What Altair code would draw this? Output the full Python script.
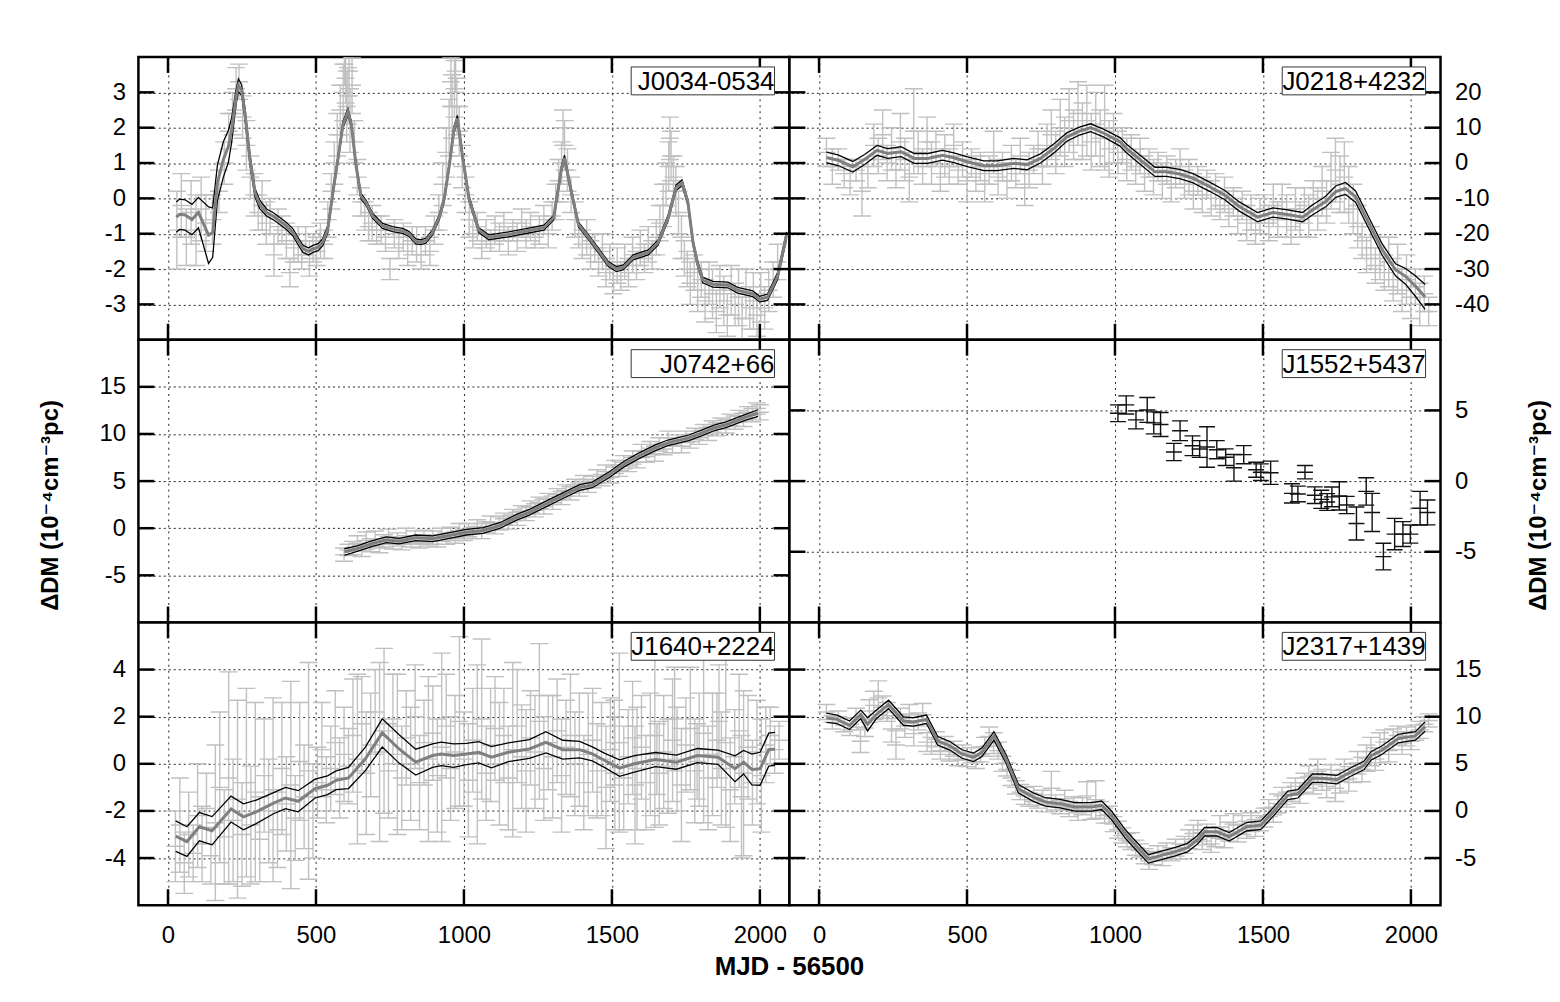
import altair as alt
import pandas as pd

FONT = "Liberation Sans, Arial, Helvetica, DejaVu Sans, sans-serif"
W, H = 654, 284
X_DOMAIN = [-100, 2100]
X_TICKS = [0, 500, 1000, 1500, 2000]
Y_TITLE = "ΔDM (10⁻⁴cm⁻³pc)"
X_TITLE = "MJD - 56500"

# ---------------- J0034-0534 ----------------
J0034_NAME = "J0034-0534"
J0034_Y_DOMAIN = [-4, 4]
J0034_Y_TICKS = [-3, -2, -1, 0, 1, 2, 3]
J0034_MODEL_X = [28, 39, 58, 81, 103, 137, 151, 167, 187, 204, 215, 230, 238, 249, 260, 277, 294, 310, 333, 355,
                 378, 400, 423, 439, 456, 475, 490, 507, 523, 540, 557, 574, 591, 608, 619, 636, 652, 669, 692, 725,
                 759, 793, 815, 837, 854, 871, 893, 916, 933, 950, 966, 978, 995, 1017, 1050, 1084, 1151, 1219, 1270,
                 1303, 1330, 1340, 1360, 1387, 1421, 1454, 1488, 1515, 1539, 1572, 1623, 1656, 1690, 1717, 1737,
                 1757, 1774, 1790, 1807, 1841, 1892, 1925, 1976, 1999, 2026, 2060, 2090]
J0034_MODEL_Y = [-0.53, -0.45, -0.47, -0.6, -0.4, -1.04, -0.97, 0.44, 1.1, 1.47, 1.93, 2.87, 3.2, 3.06, 2.4, 1.1,
                 0.16, -0.17, -0.4, -0.5, -0.64, -0.78, -0.97, -1.2, -1.43, -1.5, -1.43, -1.38, -1.24, -0.87, 0.16,
                 1.1, 2.08, 2.45, 2.12, 0.9, 0.06, -0.12, -0.5, -0.78, -0.87, -0.92, -1.01, -1.22, -1.24, -1.2,
                 -0.97, -0.55, -0.03, 0.9, 1.93, 2.26, 1.2, 0.0, -0.9, -1.1, -1.02, -0.91, -0.83, -0.55, 0.86, 1.14,
                 0.3, -0.74, -1.1, -1.47, -1.86, -2.0, -1.95, -1.67, -1.53, -1.25, -0.55, 0.3, 0.44, -0.12, -1.25,
                 -1.86, -2.31, -2.43, -2.45, -2.6, -2.7, -2.85, -2.8, -2.2, -1.05]
J0034_MODEL_HW = [0.43, 0.43, 0.43, 0.43, 0.43, 0.8, 0.7, 0.5, 0.5, 0.45, 0.35, 0.2, 0.18, 0.15, 0.15, 0.15, 0.12,
                  0.12, 0.1, 0.1, 0.1, 0.1, 0.1, 0.1, 0.1, 0.1, 0.1, 0.1, 0.1, 0.1, 0.08, 0.08, 0.09, 0.09, 0.08,
                  0.08, 0.08, 0.07, 0.07, 0.07, 0.07, 0.07, 0.07, 0.07, 0.07, 0.07, 0.07, 0.07, 0.08, 0.08, 0.09,
                  0.09, 0.08, 0.08, 0.07, 0.07, 0.07, 0.07, 0.07, 0.07, 0.08, 0.08, 0.08, 0.07, 0.07, 0.07, 0.07,
                  0.07, 0.07, 0.07, 0.07, 0.07, 0.08, 0.08, 0.08, 0.08, 0.08, 0.08, 0.08, 0.08, 0.08, 0.08, 0.08,
                  0.08, 0.09, 0.1, 0.1]
J0034_OBS = [
    (30, -0.9, 1.1), (45, -0.2, 0.9), (62, -1.1, 0.8), (78, -0.4, 0.9), (95, -0.9, 1.0), (112, -0.3, 0.9),
    (128, -0.7, 0.8), (150, -0.6, 0.7), (172, 0.2, 0.6), (190, 1.0, 0.6), (205, 1.9, 0.5), (218, 2.4, 0.6),
    (230, 3.1, 0.6), (240, 3.3, 0.5), (252, 2.3, 0.6), (265, 1.5, 0.7), (278, 0.6, 0.6), (292, 0.1, 0.6),
    (305, -0.4, 0.5), (318, -0.2, 0.7), (332, -0.7, 0.6), (345, -0.5, 0.5), (358, -1.6, 0.6), (372, -0.8, 0.5),
    (385, -0.9, 0.4), (400, -1.2, 0.5), (412, -2.1, 0.4), (425, -1.4, 0.4), (440, -1.3, 0.5), (452, -1.6, 0.4),
    (465, -1.2, 0.4), (478, -1.7, 0.5), (490, -1.4, 0.4), (502, -1.5, 0.4), (515, -1.2, 0.5), (528, -1.3, 0.4),
    (540, -0.6, 0.5), (552, 0.2, 0.5), (562, 1.0, 0.6), (572, 1.8, 0.6), (582, 2.5, 0.7), (592, 3.0, 0.8),
    (596, 3.8, 0.6), (600, 3.4, 0.7), (604, 2.6, 1.0), (608, 2.9, 0.8), (612, 3.6, 0.7), (615, 2.2, 0.9),
    (622, 3.2, 0.8), (630, 1.6, 0.6), (640, 0.6, 0.5), (652, -0.1, 0.4), (665, -0.5, 0.4), (678, -0.8, 0.4),
    (690, -0.7, 0.5), (705, -0.9, 0.4), (720, -0.9, 0.4), (735, -1.1, 0.4), (750, -2.0, 0.3), (765, -1.0, 0.4),
    (780, -1.3, 0.4), (795, -1.1, 0.4), (810, -1.5, 0.4), (825, -1.2, 0.4), (840, -1.3, 0.5), (855, -1.6, 0.4),
    (870, -1.2, 0.4), (885, -1.5, 0.4), (900, -0.9, 0.4), (915, -0.4, 0.5), (928, 0.4, 0.6), (940, 1.3, 0.7),
    (950, 2.0, 0.8), (956, 3.3, 0.7), (960, 2.6, 0.9), (968, 3.1, 0.8), (972, 3.6, 0.6), (976, 2.6, 0.8),
    (984, 1.9, 0.7), (994, 0.9, 0.6), (1005, 0.1, 0.5), (1018, -0.6, 0.5), (1030, -1.0, 0.4), (1045, -0.8, 0.4),
    (1060, -1.3, 0.4), (1075, -1.0, 0.4), (1090, -1.2, 0.3), (1105, -0.9, 0.4), (1120, -1.1, 0.4),
    (1135, -0.8, 0.4), (1150, -1.2, 0.4), (1165, -0.9, 0.3), (1180, -1.1, 0.4), (1195, -0.7, 0.4),
    (1210, -1.0, 0.4), (1225, -0.8, 0.4), (1240, -1.1, 0.3), (1255, -0.9, 0.4), (1270, -0.6, 0.4),
    (1285, -1.0, 0.4), (1298, -0.5, 0.4), (1310, -0.1, 0.5), (1320, 0.5, 0.6), (1330, 1.0, 0.6),
    (1335, 2.0, 0.5), (1340, 1.5, 0.7), (1350, 0.8, 0.6), (1362, 0.1, 0.5), (1375, -0.6, 0.5),
    (1388, -1.0, 0.4), (1400, -1.3, 0.4), (1415, -1.1, 0.5), (1428, -1.6, 0.4), (1442, -1.4, 0.4),
    (1455, -1.8, 0.4), (1468, -1.5, 0.5), (1480, -2.1, 0.4), (1493, -1.8, 0.5), (1505, -2.3, 0.4),
    (1518, -1.9, 0.5), (1530, -2.2, 0.4), (1543, -1.8, 0.5), (1556, -2.1, 0.4), (1570, -1.6, 0.5),
    (1583, -1.9, 0.4), (1596, -1.4, 0.5), (1610, -1.7, 0.4), (1623, -1.3, 0.5), (1636, -1.6, 0.4),
    (1650, -1.1, 0.5), (1662, -0.7, 0.5), (1673, -0.2, 0.6), (1683, 0.4, 0.6), (1692, 0.9, 0.7),
    (1696, 1.7, 0.6), (1700, 1.2, 0.7), (1708, 0.6, 0.6), (1716, 0.2, 0.7), (1725, -0.4, 0.6),
    (1735, -1.1, 0.6), (1745, -1.7, 0.5), (1755, -2.0, 0.5), (1765, -2.4, 0.6), (1778, -2.1, 0.5),
    (1790, -2.6, 0.6), (1802, -2.3, 0.5), (1815, -2.9, 0.6), (1828, -2.4, 0.6), (1840, -2.7, 0.7),
    (1853, -3.2, 0.6), (1865, -2.5, 0.6), (1878, -2.9, 0.7), (1890, -3.3, 0.6), (1903, -2.6, 0.7),
    (1916, -3.0, 0.6), (1928, -2.8, 0.8), (1940, -3.4, 0.6), (1953, -2.7, 0.7), (1966, -3.1, 0.6),
    (1978, -2.9, 0.8), (1990, -3.3, 0.6), (2003, -2.8, 0.7), (2016, -3.1, 0.6), (2030, -2.6, 0.6),
    (2045, -2.3, 0.5), (2060, -1.8, 0.5)]

# ---------------- J0218+4232 ----------------
J0218_NAME = "J0218+4232"
J0218_Y_DOMAIN = [-50, 30]
J0218_Y_TICKS = [-40, -30, -20, -10, 0, 10, 20]
J0218_MODEL_X = [25, 64, 114, 154, 196, 232, 277, 322, 367, 417, 456, 501, 557, 602, 658, 703, 748, 793, 838, 882,
                 918, 961, 1017, 1039, 1084, 1135, 1174, 1219, 1264, 1320, 1370, 1420, 1482, 1533, 1578, 1634,
                 1667, 1712, 1746, 1779, 1813, 1858, 1903, 1948, 1981, 2015, 2048]
J0218_MODEL_Y = [1.58, 0.8, -1.05, 1.0, 3.6, 2.7, 3.2, 1.3, 1.3, 2.2, 1.5, 0.35, -0.77, -0.77, -0.1, -0.5, 1.3,
                 4.1, 7.4, 9.1, 10.0, 8.5, 6.0, 4.1, 1.0, -2.5, -2.5, -3.1, -4.3, -6.7, -9.0, -12.3, -15.3, -14.0,
                 -14.5, -15.3, -13.3, -10.9, -8.1, -7.2, -9.5, -17.0, -24.5, -30.2, -32.0, -34.8, -37.9]
J0218_MODEL_HW = [1.5, 1.5, 1.5, 1.4, 1.4, 1.4, 1.4, 1.4, 1.4, 1.4, 1.4, 1.4, 1.4, 1.4, 1.4, 1.4, 1.3, 1.3, 1.2,
                  1.1, 1.1, 1.1, 1.2, 1.2, 1.3, 1.3, 1.3, 1.3, 1.3, 1.3, 1.3, 1.3, 1.3, 1.3, 1.3, 1.3, 1.4, 1.5,
                  1.6, 1.7, 1.6, 1.6, 1.6, 1.7, 2.2, 2.9, 3.5]
J0218_OBS = [
    (25, 3, 4), (45, -1, 5), (65, 1, 3), (85, -3, 4), (105, -5, 4), (125, -2, 3), (145, -8, 7), (165, -3, 4),
    (185, 5, 6), (200, 2, 5), (215, 8, 7), (230, 0, 5), (245, 4, 6), (260, -2, 5), (275, 6, 8), (290, 1, 6),
    (305, -4, 7), (320, 9, 12), (335, 3, 6), (350, -1, 5), (365, 6, 7), (380, 0, 6), (395, 4, 5), (410, -3, 5),
    (425, 2, 6), (440, -1, 5), (455, 5, 6), (470, -2, 4), (485, 1, 5), (500, -5, 6), (515, 0, 4), (530, -3, 5),
    (545, -1, 4), (560, -6, 5), (575, -2, 4), (590, 3, 6), (605, -4, 5), (620, -1, 4), (635, -5, 5), (650, 0, 5),
    (665, -3, 4), (680, 2, 5), (695, -6, 6), (710, -2, 5), (725, 1, 4), (740, 4, 5), (755, -1, 5), (770, 5, 6),
    (785, 8, 7), (800, 3, 6), (815, 10, 8), (830, 6, 7), (845, 12, 9), (860, 8, 7), (875, 14, 9), (890, 9, 8),
    (905, 12, 10), (920, 6, 8), (935, 11, 9), (950, 7, 8), (965, 10, 12), (980, 4, 8), (995, 7, 7), (1010, 3, 6),
    (1025, 5, 5), (1040, 1, 6), (1055, 3, 5), (1070, -1, 5), (1085, 2, 5), (1100, -3, 5), (1115, 0, 4),
    (1130, -4, 5), (1145, -1, 4), (1160, -5, 5), (1175, -2, 4), (1190, -6, 5), (1205, -3, 4), (1220, -1, 5),
    (1235, -6, 4), (1250, -4, 5), (1265, -8, 5), (1280, -5, 4), (1295, -9, 5), (1310, -6, 4), (1325, -10, 5),
    (1340, -8, 5), (1355, -12, 4), (1370, -9, 5), (1385, -13, 5), (1400, -11, 4), (1415, -15, 5),
    (1430, -12, 4), (1445, -17, 5), (1460, -14, 5), (1475, -19, 4), (1490, -15, 5), (1505, -13, 4),
    (1520, -17, 5), (1535, -12, 6), (1550, -16, 5), (1565, -11, 5), (1580, -15, 6), (1595, -18, 5),
    (1610, -13, 6), (1625, -16, 5), (1640, -12, 5), (1655, -15, 6), (1670, -10, 5), (1685, -13, 6),
    (1700, -8, 7), (1715, -11, 6), (1730, -5, 8), (1745, -2, 9), (1760, -6, 8), (1775, -4, 10), (1790, -9, 8),
    (1805, -13, 7), (1820, -18, 6), (1835, -22, 5), (1850, -26, 5), (1865, -24, 6), (1880, -29, 5),
    (1895, -27, 6), (1910, -31, 5), (1925, -28, 7), (1940, -33, 6), (1955, -30, 7), (1970, -36, 6),
    (1985, -33, 7), (2000, -38, 6), (2015, -35, 5), (2030, -40, 6), (2045, -37, 5), (2060, -42, 4)]

# ---------------- J0742+66 ----------------
J0742_NAME = "J0742+66"
J0742_Y_DOMAIN = [-10, 20]
J0742_Y_TICKS = [-5, 0, 5, 10, 15]
J0742_MODEL_X = [596, 639, 688, 738, 781, 837, 894, 951, 1008, 1065, 1121, 1178, 1221, 1277, 1334, 1391, 1434,
                 1490, 1540, 1590, 1647, 1689, 1760, 1803, 1845, 1888, 1945, 1994]
J0742_MODEL_Y = [-2.53, -2.17, -1.65, -1.23, -1.37, -1.02, -1.12, -0.77, -0.42, -0.24, 0.28, 1.16, 1.69, 2.57,
                 3.45, 4.32, 4.6, 5.66, 6.78, 7.66, 8.54, 9.06, 9.59, 10.1, 10.64, 11.0, 11.7, 12.22]
J0742_MODEL_HW = [0.35, 0.3, 0.3, 0.3, 0.3, 0.3, 0.3, 0.3, 0.3, 0.3, 0.3, 0.3, 0.3, 0.3, 0.3, 0.3, 0.3, 0.3,
                  0.3, 0.3, 0.3, 0.3, 0.3, 0.3, 0.3, 0.3, 0.3, 0.35]
J0742_OBS = [
    (595, -2.8, 0.7), (610, -2.3, 0.6), (625, -2.1, 0.7), (640, -1.6, 0.8), (655, -2.4, 0.6), (670, -1.3, 0.9),
    (685, -1.8, 0.7), (700, -1.1, 0.8), (715, -2.0, 0.6), (730, -1.4, 0.7), (745, -0.9, 0.8), (760, -1.6, 0.6),
    (775, -1.2, 0.7), (790, -1.7, 0.6), (805, -0.8, 0.8), (820, -1.4, 0.6), (835, -1.0, 0.7), (850, -1.5, 0.6),
    (865, -0.9, 0.7), (880, -1.3, 0.6), (895, -1.0, 0.7), (910, -1.4, 0.6), (925, -0.7, 0.7), (940, -1.1, 0.6),
    (955, -0.6, 0.7), (970, -1.0, 0.6), (985, -0.3, 0.8), (1000, -0.7, 0.6), (1015, -0.2, 0.7),
    (1030, -0.5, 0.6), (1045, 0.2, 0.7), (1060, -0.3, 0.8), (1075, 0.1, 0.6), (1090, 0.6, 0.7),
    (1105, 0.0, 0.6), (1120, 0.5, 0.7), (1135, 1.0, 0.6), (1150, 0.6, 0.7), (1165, 1.4, 0.6), (1180, 1.0, 0.7),
    (1195, 1.8, 0.6), (1210, 1.5, 0.7), (1225, 2.3, 0.6), (1240, 1.9, 0.7), (1255, 2.7, 0.6), (1270, 2.3, 0.8),
    (1285, 3.1, 0.6), (1300, 2.7, 0.7), (1315, 3.6, 0.6), (1330, 3.2, 0.7), (1345, 4.0, 0.6), (1360, 3.7, 0.7),
    (1375, 4.6, 0.6), (1390, 4.1, 0.7), (1405, 5.0, 0.6), (1420, 4.5, 0.7), (1435, 4.9, 0.6), (1450, 5.5, 0.7),
    (1465, 5.1, 0.6), (1480, 6.0, 0.7), (1495, 5.4, 0.6), (1510, 6.5, 0.7), (1525, 6.1, 0.6), (1540, 7.0, 0.7),
    (1555, 6.6, 0.6), (1570, 7.5, 0.7), (1585, 7.0, 0.6), (1600, 8.2, 0.7), (1615, 7.6, 0.6), (1630, 8.5, 0.7),
    (1645, 7.9, 0.8), (1660, 8.9, 0.7), (1675, 8.4, 0.6), (1690, 9.6, 0.7), (1705, 8.8, 0.8), (1720, 9.3, 0.6),
    (1735, 8.7, 0.7), (1750, 9.7, 0.6), (1765, 9.2, 0.7), (1780, 10.0, 0.6), (1795, 9.6, 0.7),
    (1810, 10.4, 0.6), (1825, 10.0, 0.7), (1840, 10.8, 0.6), (1855, 10.5, 0.7), (1870, 11.1, 0.6),
    (1885, 10.8, 0.7), (1900, 11.5, 0.6), (1915, 11.2, 0.7), (1930, 11.9, 0.6), (1945, 11.5, 0.7),
    (1960, 12.3, 0.6), (1975, 12.0, 0.7), (1990, 12.7, 0.6), (2000, 12.3, 0.8)]

# ---------------- J1552+5437 ----------------
J1552_NAME = "J1552+5437"
J1552_Y_DOMAIN = [-10, 10]
J1552_Y_TICKS = [-5, 0, 5]
J1552_OBS = [
    (1010, 4.80, 0.59), (1038, 5.39, 0.64), (1071, 4.33, 0.64), (1109, 5.03, 0.88), (1131, 4.12, 0.78),
    (1154, 4.00, 0.85), (1199, 2.06, 0.61), (1220, 3.56, 0.70), (1262, 2.50, 0.70), (1286, 2.27, 0.59),
    (1311, 2.41, 1.43), (1344, 2.22, 0.64), (1374, 1.69, 0.59), (1402, 0.94, 0.94), (1435, 1.87, 0.64),
    (1477, 0.80, 0.53), (1493, 0.63, 0.59), (1526, 0.59, 0.82), (1598, -0.87, 0.68), (1618, -0.91, 0.55),
    (1642, 0.63, 0.47), (1675, -1.00, 0.59), (1697, -1.29, 0.64), (1717, -1.48, 0.59), (1733, -1.12, 0.70),
    (1758, -1.05, 1.00), (1783, -1.69, 0.61), (1816, -3.00, 1.17), (1849, -0.73, 0.97), (1869, -2.22, 1.35),
    (1907, -5.34, 0.94), (1945, -3.75, 1.11), (1973, -3.75, 0.88), (1998, -3.75, 0.64), (2031, -1.92, 1.19),
    (2056, -2.22, 0.88)]

# ---------------- J1640+2224 ----------------
J1640_NAME = "J1640+2224"
J1640_Y_DOMAIN = [-6, 6]
J1640_Y_TICKS = [-4, -2, 0, 2, 4]
J1640_MODEL_X = [26, 64, 106, 149, 213, 255, 298, 355, 397, 440, 497, 539, 568, 610, 667, 724, 781, 837, 894, 923,
                 965, 1008, 1050, 1093, 1150, 1221, 1277, 1334, 1391, 1434, 1476, 1526, 1576, 1647, 1718, 1789,
                 1859, 1916, 1945, 1973, 2001, 2030, 2051]
J1640_MODEL_Y = [-3.07, -3.30, -2.67, -2.84, -1.92, -2.25, -2.04, -1.68, -1.45, -1.59, -1.05, -0.91, -0.70,
                 -0.60, 0.21, 1.31, 0.63, 0.07, 0.35, 0.42, 0.35, 0.42, 0.49, 0.28, 0.49, 0.63, 0.91, 0.60, 0.60,
                 0.42, 0.14, -0.18, 0.0, 0.18, 0.07, 0.35, 0.28, -0.21, 0.07, -0.24, -0.21, 0.60, 0.63]
J1640_MODEL_HW = [0.65, 0.63, 0.6, 0.6, 0.55, 0.55, 0.5, 0.45, 0.45, 0.45, 0.4, 0.4, 0.4, 0.45, 0.5, 0.6, 0.6,
                  0.55, 0.5, 0.5, 0.5, 0.45, 0.45, 0.45, 0.4, 0.4, 0.45, 0.4, 0.35, 0.3, 0.3, 0.35, 0.35, 0.3,
                  0.3, 0.3, 0.3, 0.55, 0.5, 0.65, 0.7, 0.7, 0.7]
J1640_OBS = [
    (25, -3.5, 1.5), (40, -2.6, 2.0), (55, -4.2, 1.3), (70, -3.0, 1.8), (85, -3.8, 1.2), (100, -2.2, 2.2),
    (115, -3.4, 1.6), (130, -1.9, 1.5), (145, -3.9, 1.2), (160, -2.5, 3.3), (175, -1.0, 3.2), (190, -3.1, 2.0),
    (205, -0.6, 4.5), (220, -2.4, 2.6), (235, -1.5, 4.2), (250, -3.0, 2.2), (265, -0.8, 4.0), (280, -2.6, 2.5),
    (295, -1.2, 3.8), (310, -3.2, 1.8), (325, -0.5, 2.4), (340, -2.0, 2.2), (355, -1.1, 3.9), (370, -2.8, 1.6),
    (385, -0.2, 2.8), (400, -1.7, 2.0), (415, -0.9, 4.4), (430, -2.3, 1.8), (445, 0.1, 2.5), (460, -1.4, 2.2),
    (475, -0.3, 4.6), (490, -2.0, 2.0), (505, -0.8, 1.5), (520, 0.6, 2.0), (535, -1.1, 1.4), (550, -0.2, 1.8),
    (565, 0.9, 2.2), (580, -0.6, 1.7), (595, 0.4, 2.0), (610, -0.1, 1.6), (625, 1.2, 2.4), (640, 0.2, 3.6),
    (655, 1.7, 2.0), (670, -0.4, 2.6), (685, 0.8, 2.2), (700, 2.2, 1.8), (715, 0.5, 3.8), (730, 1.4, 3.5),
    (745, -0.3, 2.0), (760, 1.9, 1.9), (775, 0.4, 3.4), (790, -0.6, 2.2), (805, 1.1, 2.0), (820, 0.0, 2.4),
    (835, 2.0, 2.2), (850, -0.8, 2.0), (865, 0.9, 1.8), (880, 0.2, 3.5), (895, 1.3, 2.0), (910, -0.5, 2.4),
    (925, 0.7, 4.0), (940, 1.6, 2.2), (955, -0.2, 2.2), (970, 0.5, 2.4), (985, 1.8, 3.6), (1000, 0.2, 2.0),
    (1015, -0.7, 2.4), (1030, 1.0, 2.2), (1045, 0.4, 3.8), (1060, 1.9, 3.4), (1075, -0.4, 2.0),
    (1090, 0.8, 2.4), (1105, 1.5, 2.2), (1120, 0.0, 2.6), (1135, 1.2, 2.0), (1150, -0.6, 2.2),
    (1165, 0.6, 3.7), (1180, 1.6, 2.4), (1195, 0.3, 2.2), (1210, -0.3, 2.6), (1225, 1.1, 2.0),
    (1240, 0.5, 2.4), (1255, 1.8, 3.3), (1270, -0.2, 2.2), (1285, 0.9, 2.0), (1300, 0.3, 2.6),
    (1315, 1.4, 2.2), (1330, -0.5, 2.4), (1345, 0.7, 2.0), (1360, 1.2, 2.6), (1375, 0.0, 2.2),
    (1390, 0.6, 2.4), (1405, -0.8, 2.0), (1420, 0.4, 2.6), (1435, 1.0, 2.2), (1450, -0.3, 2.0),
    (1465, 0.2, 2.4), (1480, -1.0, 2.6), (1495, 0.6, 2.2), (1508, 0.9, 1.8), (1510, -0.4, 2.4),
    (1525, 0.9, 3.8), (1540, -0.6, 2.2), (1555, 0.3, 2.0), (1570, 1.1, 2.4), (1578, -0.9, 2.5),
    (1585, -0.2, 2.6), (1600, 0.7, 2.2), (1615, -0.8, 2.0), (1630, 0.4, 2.6), (1645, 1.2, 3.9),
    (1652, 0.2, 1.5), (1660, -0.4, 2.2), (1675, 0.5, 2.4), (1690, -0.1, 2.0), (1705, 1.0, 2.6),
    (1712, 1.9, 2.2), (1720, 0.2, 2.2), (1735, -0.9, 2.4), (1750, 0.8, 2.0), (1765, 1.5, 2.6),
    (1780, -0.3, 2.2), (1788, 0.1, 1.6), (1795, 0.6, 2.4), (1810, 1.3, 3.8), (1825, -0.6, 2.2),
    (1840, 0.4, 2.6), (1855, 1.0, 2.0), (1862, 1.8, 2.4), (1870, -0.2, 2.4), (1885, 0.9, 3.6),
    (1900, -1.1, 2.2), (1915, 0.3, 2.0), (1930, 1.4, 2.4), (1938, -1.4, 2.6), (1945, -0.4, 3.5),
    (1960, 0.7, 2.2), (1975, -0.8, 1.8), (1990, 0.5, 2.2), (2005, -0.5, 2.4), (2020, 0.8, 1.6),
    (2035, 1.2, 1.2), (2050, 0.6, 1.0), (2065, 1.0, 0.8)]

# ---------------- J2317+1439 ----------------
J2317_NAME = "J2317+1439"
J2317_Y_DOMAIN = [-10, 20]
J2317_Y_TICKS = [-5, 0, 5, 10, 15]
J2317_MODEL_X = [25, 61, 103, 141, 164, 194, 235, 285, 318, 363, 401, 442, 483, 522, 550, 591, 632, 674, 724, 765,
                 815, 864, 922, 955, 988, 1038, 1079, 1113, 1154, 1204, 1245, 1278, 1303, 1344, 1386, 1444, 1493,
                 1535, 1584, 1618, 1667, 1700, 1750, 1800, 1841, 1866, 1899, 1957, 2015, 2048]
J2317_MODEL_Y = [9.89, 9.72, 9.09, 10.25, 9.19, 10.25, 11.3, 9.54, 9.44, 9.72, 7.44, 6.91, 6.04, 5.68, 6.21, 7.96,
                 5.51, 2.35, 1.47, 0.95, 0.77, 0.42, 0.42, 0.6, -0.46, -2.56, -3.96, -5.09, -4.74, -4.32, -3.89,
                 -3.09, -2.21, -2.21, -2.74, -1.68, -1.51, -0.1, 1.65, 1.82, 3.47, 3.47, 3.33, 4.18, 4.81, 5.86,
                 6.39, 7.68, 7.96, 8.95]
J2317_MODEL_HW = [0.5, 0.45, 0.45, 0.45, 0.7, 0.45, 0.45, 0.45, 0.45, 0.45, 0.45, 0.45, 0.45, 0.45, 0.45, 0.45,
                  0.45, 0.45, 0.45, 0.45, 0.45, 0.45, 0.45, 0.45, 0.45, 0.45, 0.45, 0.45, 0.45, 0.45, 0.45, 0.45,
                  0.45, 0.45, 0.45, 0.45, 0.45, 0.45, 0.45, 0.45, 0.45, 0.45, 0.45, 0.45, 0.45, 0.45, 0.45, 0.45,
                  0.45, 0.5]
J2317_OBS = [
    (25, 10.5, 0.8), (45, 9.4, 0.7), (65, 10.0, 0.6), (85, 9.1, 0.7), (105, 8.6, 0.6), (125, 9.9, 1.0),
    (140, 7.4, 1.2), (155, 8.8, 0.9), (170, 10.6, 1.2), (185, 11.2, 1.5), (200, 12.0, 1.8), (215, 11.0, 1.2),
    (230, 10.5, 1.0), (245, 8.7, 1.4), (260, 7.0, 1.5), (275, 9.8, 1.1), (290, 9.0, 1.2), (305, 10.3, 1.0),
    (320, 8.2, 1.3), (335, 9.5, 0.9), (350, 10.2, 1.2), (365, 7.3, 1.0), (380, 6.9, 0.9), (395, 7.6, 0.8),
    (410, 6.4, 0.9), (425, 7.1, 0.8), (440, 6.0, 0.7), (455, 6.6, 0.8), (470, 5.5, 0.7), (485, 6.2, 0.8),
    (500, 5.4, 0.7), (515, 5.9, 0.8), (530, 5.2, 0.7), (545, 6.0, 0.8), (560, 6.8, 1.0), (575, 7.9, 1.0),
    (590, 7.2, 1.1), (605, 6.4, 0.9), (620, 5.0, 0.8), (635, 4.4, 0.7), (650, 3.5, 0.8), (665, 2.5, 0.7),
    (680, 2.0, 0.8), (695, 1.6, 0.9), (710, 1.2, 0.7), (725, 1.8, 0.8), (740, 1.0, 0.7), (755, 1.4, 0.8),
    (770, 0.6, 0.7), (785, 2.4, 1.8), (800, 0.9, 0.8), (815, 0.4, 0.7), (830, 1.3, 0.9), (845, 0.2, 0.8),
    (860, 0.8, 0.7), (875, -0.2, 0.8), (890, 0.5, 0.9), (905, 1.6, 1.5), (920, -0.1, 0.8), (935, 1.2, 2.0),
    (950, 0.1, 0.9), (965, -0.5, 0.8), (980, -0.4, 0.9), (995, -1.4, 0.8), (1010, -2.0, 0.9),
    (1025, -2.6, 0.8), (1040, -3.1, 0.7), (1055, -3.2, 0.9), (1070, -3.9, 0.8), (1085, -4.2, 0.7),
    (1100, -4.8, 0.8), (1115, -5.3, 0.9), (1130, -5.0, 0.7), (1145, -4.5, 0.8), (1160, -5.1, 0.7),
    (1175, -4.2, 0.8), (1190, -4.6, 0.7), (1205, -3.9, 0.9), (1220, -4.3, 0.8), (1235, -3.6, 0.9),
    (1250, -3.0, 1.0), (1265, -2.4, 0.9), (1280, -2.0, 1.0), (1295, -3.2, 0.9), (1310, -2.5, 1.1),
    (1325, -3.5, 0.9), (1340, -2.8, 1.0), (1355, -1.7, 1.2), (1370, -3.0, 0.9), (1385, -2.2, 1.0),
    (1400, -1.4, 1.1), (1415, -2.4, 0.9), (1430, -1.5, 1.0), (1445, -2.0, 0.9), (1460, -1.2, 1.0),
    (1475, -1.8, 0.9), (1490, -1.3, 0.8), (1505, -0.7, 1.0), (1520, 0.3, 0.9), (1535, -0.4, 0.8),
    (1550, 0.8, 1.0), (1565, 1.6, 0.9), (1580, 1.2, 0.8), (1595, 2.0, 1.0), (1610, 2.6, 0.9), (1625, 1.9, 1.1),
    (1640, 3.0, 1.0), (1655, 3.6, 1.2), (1670, 2.8, 1.0), (1685, 4.2, 1.3), (1700, 3.3, 1.1), (1715, 2.6, 1.2),
    (1730, 3.9, 1.0), (1745, 2.4, 1.4), (1760, 3.1, 1.2), (1775, 4.4, 1.1), (1790, 3.4, 1.3), (1805, 4.0, 1.0),
    (1820, 5.1, 1.2), (1835, 4.4, 1.3), (1850, 5.6, 1.4), (1865, 6.3, 1.5), (1880, 5.5, 1.2), (1895, 6.7, 1.6),
    (1910, 7.3, 1.3), (1925, 6.4, 1.2), (1940, 7.6, 1.1), (1955, 8.0, 1.0), (1970, 7.2, 1.2), (1985, 7.9, 1.0),
    (2000, 7.4, 0.9), (2015, 8.3, 0.8), (2030, 8.6, 0.9), (2045, 9.2, 0.8), (2060, 9.6, 0.7)]

# ---------------- styles ----------------
ERR_GRAY = "#c0c0c0"
ERR_BLACK = "#111111"
MID_GRAY = "#7f7f7f"
TICK_LEN = 16
PLAIN_LABEL = "'' + datum.value"


def obs_frame(obs):
    return pd.DataFrame({
        "x": [o[0] for o in obs],
        "y": [o[1] for o in obs],
        "lo": [o[1] - o[2] for o in obs],
        "hi": [o[1] + o[2] for o in obs],
    })


def model_frame(mx, my, mhw):
    if not (len(mx) == len(my) == len(mhw)):
        raise ValueError("model list lengths differ")
    return pd.DataFrame({
        "x": mx, "y": my,
        "lo": [a - b for a, b in zip(my, mhw)],
        "hi": [a + b for a, b in zip(my, mhw)],
    })


def make_panel(name, y_domain, y_ticks, obs, err_color, cap, model, side, bottom, y_title=None):
    xs = alt.Scale(domain=X_DOMAIN, nice=False, zero=False)
    ys = alt.Scale(domain=y_domain, nice=False, zero=False)

    x_kw = dict(values=X_TICKS, grid=True, gridDash=[2, 4], gridColor="#222222", gridWidth=1,
                ticks=False, domain=False, labels=bottom, title=None, labelFontSize=24, labelFont=FONT,
                labelColor="black", labelPadding=19, labelExpr=PLAIN_LABEL)
    y_kw = dict(orient=side, values=y_ticks, grid=True, gridDash=[2, 3], gridColor="#222222", gridWidth=1,
                ticks=False, domain=False, labelFontSize=24, labelFont=FONT, labelColor="black",
                labelPadding=13 if side == "left" else 14, title=None, labelExpr=PLAIN_LABEL)
    if y_title:
        y_kw.update(title=y_title, titleFont=FONT, titleFontSize=24, titleFontWeight="bold",
                    titleColor="black", titleAngle=270, titleAlign="center", titleY=166)
        if side == "left":
            y_kw.update(titleBaseline="bottom", titleX=-76)
        else:
            y_kw.update(titleBaseline="top", titleX=86)
    x_axis = alt.Axis(**x_kw)
    y_axis = alt.Axis(**y_kw)

    def X(f):
        return alt.X(f, scale=xs, axis=x_axis)

    def Y(f):
        return alt.Y(f, scale=ys, axis=y_axis)

    od = obs_frame(obs)
    layers = []
    layers.append(alt.Chart(od).mark_rule(color=err_color, strokeWidth=1.4, clip=True).encode(
        x=X("x:Q"), y=Y("lo:Q"), y2="hi:Q"))
    layers.append(alt.Chart(od).transform_fold(["lo", "hi", "y"], as_=["k", "v"]).mark_tick(
        orient="horizontal", size=cap, thickness=1.4, color=err_color, opacity=1, clip=True).encode(
        x=X("x:Q"), y=Y("v:Q")))

    if model is not None:
        md = model_frame(*model)
        for fld in ["hi", "lo"]:
            layers.append(alt.Chart(md).mark_line(color="black", strokeWidth=1.3, clip=True).encode(
                x=X("x:Q"), y=Y(f"{fld}:Q")))
        layers.append(alt.Chart(md).mark_line(color=MID_GRAY, strokeWidth=3, clip=True).encode(
            x=X("x:Q"), y=Y("y:Q")))

    xt = pd.DataFrame({"v": X_TICKS})
    yt = pd.DataFrame({"v": y_ticks})
    tick_style = dict(color="black", strokeWidth=2.5)
    layers.append(alt.Chart(xt).mark_rule(**tick_style).encode(
        x=X("v:Q"), y=alt.value(0), y2=alt.value(TICK_LEN)))
    layers.append(alt.Chart(xt).mark_rule(**tick_style).encode(
        x=X("v:Q"), y=alt.value(H - TICK_LEN), y2=alt.value(H)))
    layers.append(alt.Chart(yt).mark_rule(**tick_style).encode(
        y=Y("v:Q"), x=alt.value(0), x2=alt.value(TICK_LEN)))
    layers.append(alt.Chart(yt).mark_rule(**tick_style).encode(
        y=Y("v:Q"), x=alt.value(W - TICK_LEN), x2=alt.value(W)))

    lab = pd.DataFrame({"name": [name]})
    layers.append(alt.Chart(lab).mark_rect(fill="white", stroke="#333333", strokeWidth=1).encode(
        x=alt.value(W - 159), x2=alt.value(W - 15), y=alt.value(10), y2=alt.value(38)))
    layers.append(alt.Chart(lab).mark_text(align="right", baseline="middle", font=FONT, fontSize=26,
                                           color="black").encode(
        x=alt.value(W - 15), y=alt.value(25), text="name:N"))

    return alt.layer(*layers).properties(width=W, height=H)


p1 = make_panel(J0034_NAME, J0034_Y_DOMAIN, J0034_Y_TICKS, J0034_OBS, ERR_GRAY, 18,
                (J0034_MODEL_X, J0034_MODEL_Y, J0034_MODEL_HW), "left", False)
p2 = make_panel(J0218_NAME, J0218_Y_DOMAIN, J0218_Y_TICKS, J0218_OBS, ERR_GRAY, 18,
                (J0218_MODEL_X, J0218_MODEL_Y, J0218_MODEL_HW), "right", False)
p3 = make_panel(J0742_NAME, J0742_Y_DOMAIN, J0742_Y_TICKS, J0742_OBS, ERR_GRAY, 18,
                (J0742_MODEL_X, J0742_MODEL_Y, J0742_MODEL_HW), "left", False, Y_TITLE)
p4 = make_panel(J1552_NAME, J1552_Y_DOMAIN, J1552_Y_TICKS, J1552_OBS, ERR_BLACK, 16,
                None, "right", False, Y_TITLE)
p5 = make_panel(J1640_NAME, J1640_Y_DOMAIN, J1640_Y_TICKS, J1640_OBS, ERR_GRAY, 18,
                (J1640_MODEL_X, J1640_MODEL_Y, J1640_MODEL_HW), "left", True)
p6 = make_panel(J2317_NAME, J2317_Y_DOMAIN, J2317_Y_TICKS, J2317_OBS, ERR_GRAY, 18,
                (J2317_MODEL_X, J2317_MODEL_Y, J2317_MODEL_HW), "right", True)

chart = alt.concat(
    p1, p2, p3, p4, p5, p6, columns=2, spacing=0, bounds="flush",
    title=alt.TitleParams(text=X_TITLE, orient="bottom", anchor="middle", font=FONT, fontSize=26,
                          fontWeight="bold", color="black", offset=5, dx=-5),
).properties(
    padding={"left": 29, "top": 44, "right": 0, "bottom": 10},
    background="white",
).configure_view(stroke="black", strokeWidth=2.5, fill="white")

chart.save("out.html", embed_options={"renderer": "svg", "actions": False})
